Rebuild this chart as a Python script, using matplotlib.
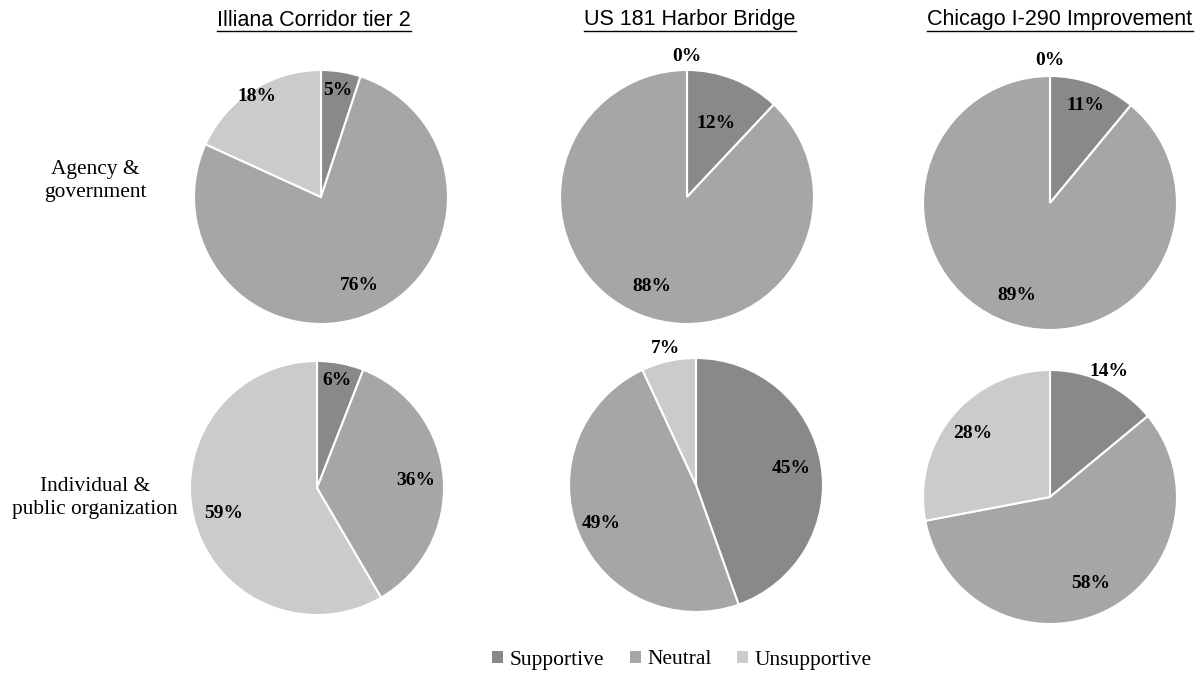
import matplotlib.pyplot as plt
import numpy as np
from matplotlib.patches import Patch
from matplotlib.lines import Line2D

############## DATA ##############
projects = ["Illiana Corridor tier 2", "US 181 Harbor Bridge", "Chicago I-290 Improvement"]
groups = ["Agency &\ngovernment", "Individual &\npublic organization"]
categories = ["Supportive", "Neutral", "Unsupportive"]

# percent per project, order: Supportive, Neutral, Unsupportive
agency = [[5, 76, 18], [12, 88, 0], [11, 89, 0]]
individual = [[6, 36, 59], [45, 49, 7], [14, 58, 28]]

############## STYLE ##############
colors = ["#898989", "#a6a6a6", "#cbcbcb"]
W, H = 1201, 673
R = 127  # pie radius in px
centers = [[(321, 197), (687, 197), (1050, 203)],
           [(317, 488), (696, 485), (1050, 497)]]
# radial position of each percent label (fraction of radius)
label_r = [[[0.85, 0.76, 0.94], [0.62, 0.76, 1.11], [0.82, 0.77, 1.12]],
           [[0.86, 0.78, 0.76], [0.76, 0.81, 1.10], [1.09, 0.75, 0.79]]]

plt.rcParams['font.family'] = ['Liberation Serif', 'DejaVu Serif']
fig = plt.figure(figsize=(W / 100, H / 100), dpi=100)

data = [agency, individual]
for row in range(2):
    for col in range(3):
        cx, cy = centers[row][col]
        ax = fig.add_axes([(cx - R) / W, 1 - (cy + R) / H, 2 * R / W, 2 * R / H])
        vals = data[row][col]
        wedges, _ = ax.pie(vals, colors=colors, startangle=90, counterclock=False,
                           radius=1, wedgeprops=dict(edgecolor='white', linewidth=1.5))
        total = float(sum(vals))
        start = 0.0
        for k, v in enumerate(vals):
            mid = (start + v / 2) / total * 2 * np.pi
            start += v
            rr = label_r[row][col][k]
            ax.text(rr * np.sin(mid), rr * np.cos(mid), f"{v}%", ha='center', va='center',
                    fontsize=14, fontweight='bold', color='black', clip_on=False)
        ax.set_xlim(-1, 1)
        ax.set_ylim(-1, 1)
        ax.set_aspect('equal')
        ax.axis('off')

# column titles (underlined)
title_x = [314, 690, 1060]
fig.canvas.draw()
renderer = fig.canvas.get_renderer()
for t, x in zip(projects, title_x):
    txt = fig.text(x / W, 1 - 20 / H, t, ha='center', va='center', fontsize=15.5,
                   family='Liberation Sans', color='black')
    bb = txt.get_window_extent(renderer=renderer).transformed(fig.transFigure.inverted())
    fig.add_artist(Line2D([bb.x0, bb.x1], [bb.y0 - 0.001, bb.y0 - 0.001],
                          transform=fig.transFigure, color='black', linewidth=1))

# row labels
fig.text(95 / W, 1 - 181 / H, groups[0], ha='center', va='center', fontsize=15.4,
         linespacing=1.25, color='black')
fig.text(95 / W, 1 - 498 / H, groups[1], ha='center', va='center', fontsize=15.4,
         linespacing=1.25, color='black')

handles = [Patch(facecolor=c, edgecolor='none', label=l) for c, l in zip(colors, categories)]
fig.legend(handles=handles, loc='center', bbox_to_anchor=(682 / W, 1 - 660 / H), ncol=3,
           frameon=False, fontsize=15.5, handlelength=0.5, handleheight=0.5,
           handletextpad=0.3, columnspacing=1.2)

fig.savefig("out.png", dpi=100, facecolor='white')
